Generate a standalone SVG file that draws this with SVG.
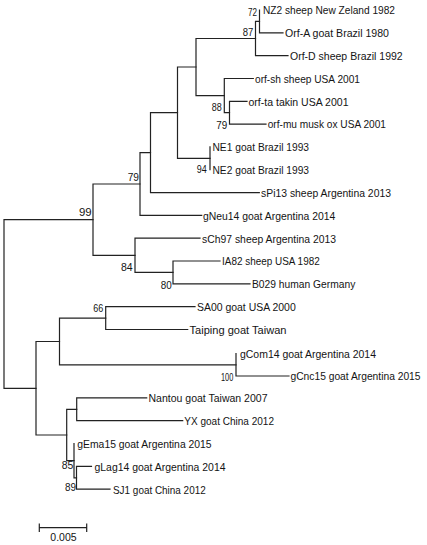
<svg xmlns="http://www.w3.org/2000/svg" width="427" height="545" viewBox="0 0 427 545">
<style>
.br{fill:none;stroke:#222;stroke-width:1.2;stroke-linecap:square}
.tx{font-family:"Liberation Sans",Arial,sans-serif;font-size:11.5px;fill:#141414}
.tx.sm{font-size:10.3px}
.bs{font-family:"Liberation Sans",Arial,sans-serif;font-size:11px;fill:#141414;text-anchor:end}
.sc{font-family:"Liberation Sans",Arial,sans-serif;font-size:10.5px;fill:#141414;text-anchor:middle}
</style>
<rect width="427" height="545" fill="#fff"/>
<g id="connectors">
<path class="br" d="M259.5 21.4V10M259.5 21.4V32.8H283"/>
<path class="br" d="M255.5 38.5V21.4H259.5M255.5 38.5V55.6H288"/>
<path class="br" d="M229.5 112.7V101.3H247M229.5 112.7V124.1H266"/>
<path class="br" d="M224.3 95.6V78.5H253.3M224.3 95.6V112.7H229.5"/>
<path class="br" d="M196 67V38.5H255.5M196 67V95.6H224.3"/>
<path class="br" d="M210 158.3V146.9M210 158.3V169.7"/>
<path class="br" d="M177.5 112.7V67H196M177.5 112.7V158.3H210"/>
<path class="br" d="M150.5 152.6V112.7H177.5M150.5 152.6V192.6H259.3"/>
<path class="br" d="M140 184V152.6H150.5M140 184V215.4H201.7"/>
<path class="br" d="M173 272.4V261H220M173 272.4V283.8H250"/>
<path class="br" d="M135 255.3V238.2H200M135 255.3V272.4H173"/>
<path class="br" d="M93 219.7V184H140M93 219.7V255.3H135"/>
<path class="br" d="M105.7 318.1V306.7H195M105.7 318.1V329.5H187.7"/>
<path class="br" d="M236 364.8V353.5M236 364.8V376H289"/>
<path class="br" d="M59.5 341.5V318.1H105.7M59.5 341.5V364.8H236"/>
<path class="br" d="M76.7 409.3V397.9H146.7M76.7 409.3V420.7H182.7"/>
<path class="br" d="M76.5 477.8V466.4H91.5M76.5 477.8V489.2H110"/>
<path class="br" d="M74 460.7V443.6M74 460.7V477.8H76.5"/>
<path class="br" d="M66.7 435V409.3H76.7M66.7 435V460.7H74"/>
<path class="br" d="M36 388.3V341.5H59.5M36 388.3V435H66.7"/>
<path class="br" d="M4 304V219.7H93M4 304V388.3H36"/>
</g>
<g id="leaf-NZ2"><text class="tx" x="263" y="14.3" textLength="132" lengthAdjust="spacingAndGlyphs">NZ2 sheep New Zeland 1982</text></g>
<g id="leaf-OrfA"><text class="tx" x="285" y="37.1" textLength="104" lengthAdjust="spacingAndGlyphs">Orf-A goat Brazil 1980</text></g>
<g id="leaf-OrfD"><text class="tx" x="290" y="59.9" textLength="112.7" lengthAdjust="spacingAndGlyphs">Orf-D sheep Brazil 1992</text></g>
<g id="leaf-orfsh"><text class="tx" x="255" y="82.8" textLength="105" lengthAdjust="spacingAndGlyphs">orf-sh sheep USA 2001</text></g>
<g id="leaf-orfta"><text class="tx" x="248.5" y="105.6" textLength="100" lengthAdjust="spacingAndGlyphs">orf-ta takin USA 2001</text></g>
<g id="leaf-orfmu"><text class="tx" x="267.7" y="128.4" textLength="118.3" lengthAdjust="spacingAndGlyphs">orf-mu musk ox USA 2001</text></g>
<g id="leaf-NE1"><text class="tx" x="212.5" y="151.2" textLength="96.5" lengthAdjust="spacingAndGlyphs">NE1 goat Brazil 1993</text></g>
<g id="leaf-NE2"><text class="tx" x="212.5" y="174" textLength="96.5" lengthAdjust="spacingAndGlyphs">NE2 goat Brazil 1993</text></g>
<g id="leaf-sPi13"><text class="tx" x="261" y="196.9" textLength="130" lengthAdjust="spacingAndGlyphs">sPi13 sheep Argentina 2013</text></g>
<g id="leaf-gNeu14"><text class="tx" x="203" y="219.7" textLength="132.3" lengthAdjust="spacingAndGlyphs">gNeu14 goat Argentina 2014</text></g>
<g id="leaf-sCh97"><text class="tx" x="202" y="242.5" textLength="134" lengthAdjust="spacingAndGlyphs">sCh97 sheep Argentina 2013</text></g>
<g id="leaf-IA82"><text class="tx" x="222" y="265.3" textLength="97.7" lengthAdjust="spacingAndGlyphs">IA82 sheep USA 1982</text></g>
<g id="leaf-B029"><text class="tx" x="252" y="288.1" textLength="103.3" lengthAdjust="spacingAndGlyphs">B029 human Germany</text></g>
<g id="leaf-SA00"><text class="tx" x="197" y="311" textLength="98.7" lengthAdjust="spacingAndGlyphs">SA00 goat USA 2000</text></g>
<g id="leaf-Taiping"><text class="tx" x="189.5" y="333.8" textLength="97" lengthAdjust="spacingAndGlyphs">Taiping goat Taiwan</text></g>
<g id="leaf-gCom14"><text class="tx" x="240" y="357.8" textLength="136" lengthAdjust="spacingAndGlyphs">gCom14 goat Argentina 2014</text></g>
<g id="leaf-gCnc15"><text class="tx sm" x="290.5" y="380" textLength="130" lengthAdjust="spacingAndGlyphs">gCnc15 goat Argentina 2015</text></g>
<g id="leaf-Nantou"><text class="tx" x="148.5" y="402.2" textLength="119" lengthAdjust="spacingAndGlyphs">Nantou goat Taiwan 2007</text></g>
<g id="leaf-YX"><text class="tx" x="184.3" y="425" textLength="89.7" lengthAdjust="spacingAndGlyphs">YX goat China 2012</text></g>
<g id="leaf-gEma15"><text class="tx" x="77.3" y="447.9" textLength="134.3" lengthAdjust="spacingAndGlyphs">gEma15 goat Argentina 2015</text></g>
<g id="leaf-gLag14"><text class="tx" x="94.5" y="470.7" textLength="131" lengthAdjust="spacingAndGlyphs">gLag14 goat Argentina 2014</text></g>
<g id="leaf-SJ1"><text class="tx" x="113" y="493.5" textLength="92.7" lengthAdjust="spacingAndGlyphs">SJ1 goat China 2012</text></g>
<g id="node-72"><text class="bs" x="257" y="16.3" textLength="9" lengthAdjust="spacingAndGlyphs">72</text></g>
<g id="node-87"><text class="bs" x="253.3" y="35.7" textLength="10.6" lengthAdjust="spacingAndGlyphs">87</text></g>
<g id="node-88"><text class="bs" x="221.7" y="110.7" textLength="10" lengthAdjust="spacingAndGlyphs">88</text></g>
<g id="node-79a"><text class="bs" x="227.3" y="128.5" textLength="11" lengthAdjust="spacingAndGlyphs">79</text></g>
<g id="node-94"><text class="bs" x="206.7" y="173" textLength="10" lengthAdjust="spacingAndGlyphs">94</text></g>
<g id="node-79b"><text class="bs" x="139" y="180.5" textLength="11.3" lengthAdjust="spacingAndGlyphs">79</text></g>
<g id="node-99"><text class="bs" x="91.7" y="215.7" textLength="12.7" lengthAdjust="spacingAndGlyphs">99</text></g>
<g id="node-84"><text class="bs" x="132.7" y="271.3" textLength="11.7" lengthAdjust="spacingAndGlyphs">84</text></g>
<g id="node-80"><text class="bs" x="171.7" y="288.5" textLength="11" lengthAdjust="spacingAndGlyphs">80</text></g>
<g id="node-66"><text class="bs" x="103.3" y="312.3" textLength="10" lengthAdjust="spacingAndGlyphs">66</text></g>
<g id="node-100"><text class="bs" x="233.3" y="380.7" textLength="12.3" lengthAdjust="spacingAndGlyphs">100</text></g>
<g id="node-85"><text class="bs" x="73.3" y="469" textLength="11.6" lengthAdjust="spacingAndGlyphs">85</text></g>
<g id="node-89"><text class="bs" x="76" y="490.7" textLength="11" lengthAdjust="spacingAndGlyphs">89</text></g>
<g id="scale-bar">
<path class="br" d="M39.3 527.7H86.7M39.3 524V531.5M86.7 524V531.5"/>
<text class="sc" x="63.5" y="541.3">0.005</text>
</g>
</svg>
